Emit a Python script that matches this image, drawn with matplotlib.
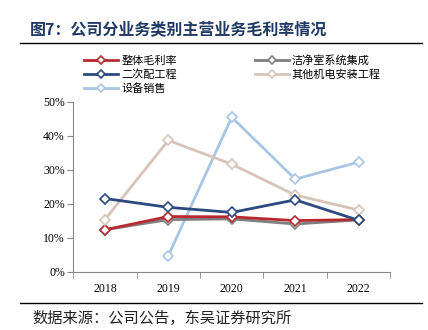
import numpy as np
import matplotlib
matplotlib.use("Agg")
import matplotlib.pyplot as plt
from matplotlib.lines import Line2D

plt.rcParams["font.family"] = ["Noto Sans CJK SC", "DejaVu Sans"]

years = ["2018", "2019", "2020", "2021", "2022"]
overall = [12.4, 16.3, 16.2, 15.1, 15.4]
cleanroom = [12.4, 15.4, 15.6, 14.1, 15.3]
secondary = [21.6, 19.0, 17.5, 21.2, 15.2]
other_mep = [15.4, 38.7, 31.7, 22.6, 18.2]
equipment = [np.nan, 4.8, 45.5, 27.3, 32.3]

labels = ["整体毛利率", "洁净室系统集成", "二次配工程", "其他机电安装工程", "设备销售"]
colors = ["#B8292F", "#7F7F7F", "#2B4A80", "#D6C4B8", "#A8C5E3"]

fig = plt.figure(figsize=(4.28, 3.3), dpi=100)
ax = fig.add_axes([0.171, 0.176, 0.741, 0.515])

x = np.arange(len(years))
series = [overall, cleanroom, secondary, other_mep, equipment]
draw_order = [4, 1, 0, 3, 2]
for i in draw_order:
    ax.plot(x, series[i], color=colors[i], lw=2.0, marker="D", ms=5.5,
            mfc="white", mec=colors[i], mew=1.2, zorder=3 + draw_order.index(i))

ax.set_xlim(-0.5, 4.5)
ax.set_ylim(0, 50)
ax.set_yticks([0, 10, 20, 30, 40, 50])
ax.set_yticklabels([f"{v}%" for v in [0, 10, 20, 30, 40, 50]],
                   family="Liberation Serif", fontsize=8.5)
ax.set_xticks(x)
ax.set_xticklabels(years, family="Liberation Serif", fontsize=8.5)
ax.set_xticks(np.arange(-0.5, 5, 1), minor=True)
ax.tick_params(axis="x", which="major", length=0, pad=8)
ax.tick_params(axis="x", which="minor", length=4, color="#888888")
ax.tick_params(axis="y", length=4, color="#888888", pad=2)
for s in ["top", "right"]:
    ax.spines[s].set_visible(False)
for s in ["left", "bottom"]:
    ax.spines[s].set_color("#888888")

# legend
handles = [Line2D([], [], color=c, lw=2.0, marker="D", ms=4.5, mfc="white",
                  mec=c, mew=1.2) for c in colors]
order = [0, 2, 4, 1, 3]
fig.legend([handles[i] for i in order], [labels[i] for i in order],
           loc="upper left", bbox_to_anchor=(0.196, 0.834), ncol=2,
           frameon=False, fontsize=8, handlelength=3.1, handletextpad=0.25,
           columnspacing=7.0, labelspacing=0.3, borderpad=0, borderaxespad=0)

# title and rules
fig.text(0.07, 0.912, "图7：公司分业务类别主营业务毛利率情况", fontsize=11.5,
         fontweight="bold", color="#1F3864", va="center")
fig.add_artist(Line2D([0.047, 0.985], [0.869, 0.869], color="black", lw=1.0))
fig.add_artist(Line2D([0.047, 0.985], [0.082, 0.082], color="black", lw=1.0))
fig.text(0.075, 0.036, "数据来源：公司公告，东吴证券研究所", fontsize=11,
         color="#222222", va="center")

fig.savefig("out.png", dpi=100)
